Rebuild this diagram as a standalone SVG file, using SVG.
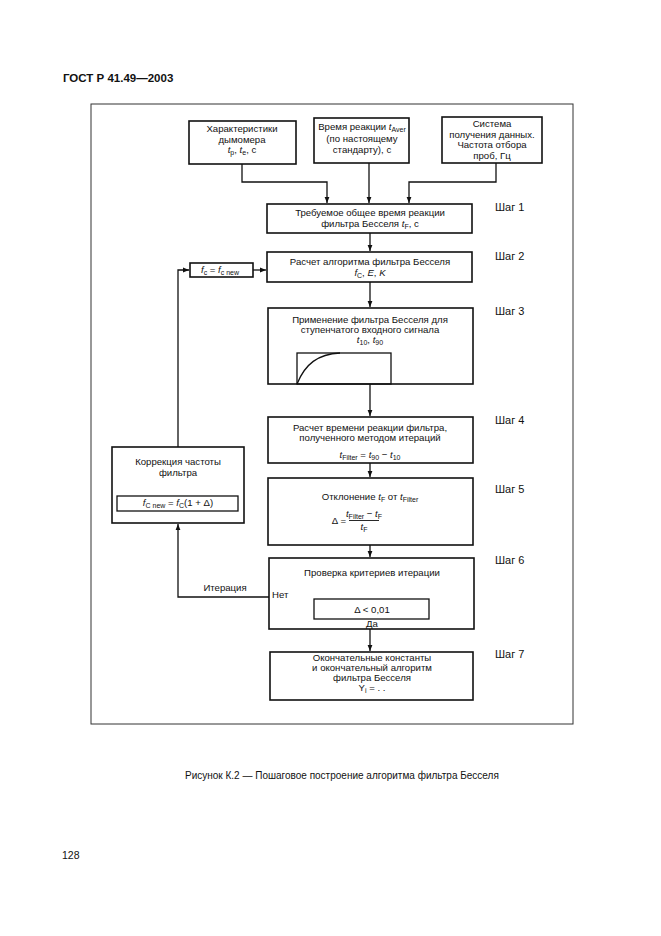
<svg xmlns="http://www.w3.org/2000/svg" width="661" height="936" viewBox="0 0 661 936">
<defs>
<style>
text{font-family:"Liberation Sans",Arial,sans-serif;font-size:9.6px;fill:#111;}
.c{text-anchor:middle;}
.i{font-style:italic;}
.s{font-size:7px;}
.box{fill:#fff;stroke:#111;stroke-width:1.6;}
.ln{fill:none;stroke:#111;stroke-width:1.3;}
.step{font-size:11px;}
</style>
<marker id="ah" viewBox="0 0 10 10" refX="10" refY="5" markerWidth="6" markerHeight="6" orient="auto" markerUnits="userSpaceOnUse">
<path d="M0,1 L10,5 L0,9 z" fill="#111"/>
</marker>
</defs>
<rect width="661" height="936" fill="#fff"/>
<text x="63" y="82" style="font-size:11.5px;font-weight:bold">ГОСТ Р 41.49—2003</text>
<rect x="91" y="104" width="482" height="620" fill="none" stroke="#333" stroke-width="1"/>

<g id="connectors">
<path class="ln" d="M242,164 V182 H327 V203" marker-end="url(#ah)"/>
<path class="ln" d="M369,163 V203" marker-end="url(#ah)"/>
<path class="ln" d="M496,163 V182 H409 V203" marker-end="url(#ah)"/>
<path class="ln" d="M370,233 V251" marker-end="url(#ah)"/>
<path class="ln" d="M370,282 V307" marker-end="url(#ah)"/>
<path class="ln" d="M370,384 V416" marker-end="url(#ah)"/>
<path class="ln" d="M370,463 V477" marker-end="url(#ah)"/>
<path class="ln" d="M370,545 V557" marker-end="url(#ah)"/>
<path class="ln" d="M370,629 V651" marker-end="url(#ah)"/>
<path class="ln" d="M253,270 H266" marker-end="url(#ah)"/>
<path class="ln" d="M178,447 V270 H189" marker-end="url(#ah)"/>
<path class="ln" d="M269,597 H178 V524" marker-end="url(#ah)"/>
<text class="c" x="225" y="591">Итерация</text>
</g>

<g id="in1">
<rect class="box" x="189" y="121" width="107" height="43"/>
<text class="c" x="242" y="132">Характеристики</text>
<text class="c" x="242" y="142.5">дымомера</text>
<text class="c" x="242" y="153"><tspan class="i">t</tspan><tspan class="s" dy="2">р</tspan><tspan dy="-2">, </tspan><tspan class="i">t</tspan><tspan class="s" dy="2">е</tspan><tspan dy="-2">, с</tspan></text>
</g>
<g id="in2">
<rect class="box" x="314" y="118" width="95" height="45"/>
<text class="c" x="362" y="130">Время реакции <tspan class="i">t</tspan><tspan class="s" dy="2">Aver</tspan></text>
<text class="c" x="362" y="141.5">(по настоящему</text>
<text class="c" x="362" y="152.5">стандарту), с</text>
</g>
<g id="in3">
<rect class="box" x="442" y="117" width="100" height="46"/>
<text class="c" x="492" y="127">Система</text>
<text class="c" x="492" y="137.5">получения данных.</text>
<text class="c" x="492" y="148">Частота отбора</text>
<text class="c" x="492" y="158.5">проб, Гц</text>
</g>

<g id="step1">
<rect class="box" x="267" y="204" width="205" height="29"/>
<text class="c" x="370" y="216">Требуемое общее время реакции</text>
<text class="c" x="370" y="227">фильтра Бесселя <tspan class="i">t</tspan><tspan class="s" dy="2">F</tspan><tspan dy="-2">, с</tspan></text>
<text class="step" x="495" y="211">Шаг 1</text>
</g>
<g id="step2">
<rect class="box" x="267" y="252" width="205" height="30"/>
<text class="c" x="370" y="265">Расчет алгоритма фильтра Бесселя</text>
<text class="c" x="370" y="276"><tspan class="i">f</tspan><tspan class="s" dy="2">C</tspan><tspan dy="-2">, </tspan><tspan class="i">E</tspan>, <tspan class="i">K</tspan></text>
<text class="step" x="495" y="260">Шаг 2</text>
</g>
<g id="fcset">
<rect class="box" x="190" y="263" width="63" height="14"/>
<text class="c" x="220" y="273"><tspan class="i">f</tspan><tspan class="s" dy="2">c</tspan><tspan dy="-2"> = </tspan><tspan class="i">f</tspan><tspan class="s" dy="2">c new</tspan></text>
</g>
<g id="step3">
<rect class="box" x="268" y="308" width="205" height="76"/>
<text class="c" x="370" y="323">Применение фильтра Бесселя для</text>
<text class="c" x="370" y="333">ступенчатого входного сигнала</text>
<text class="c" x="370" y="343"><tspan class="i">t</tspan><tspan class="s" dy="2">10</tspan><tspan dy="-2">, </tspan><tspan class="i">t</tspan><tspan class="s" dy="2">90</tspan></text>
<rect x="297" y="353" width="94" height="31" fill="none" stroke="#111" stroke-width="1.3"/>
<path class="ln" d="M297,384 C305,364 318,354 340,353"/>
<text class="step" x="495" y="315">Шаг 3</text>
</g>
<g id="step4">
<rect class="box" x="268" y="417" width="205" height="46"/>
<text class="c" x="370" y="431">Расчет времени реакции фильтра,</text>
<text class="c" x="370" y="441">полученного методом итераций</text>
<text class="c" x="370" y="458"><tspan class="i">t</tspan><tspan class="s" dy="2">Filter</tspan><tspan dy="-2"> = </tspan><tspan class="i">t</tspan><tspan class="s" dy="2">90</tspan><tspan dy="-2"> − </tspan><tspan class="i">t</tspan><tspan class="s" dy="2">10</tspan></text>
<text class="step" x="495" y="424">Шаг 4</text>
</g>
<g id="step5">
<rect class="box" x="268" y="478" width="205" height="67"/>
<text class="c" x="370" y="500">Отклонение <tspan class="i">t</tspan><tspan class="s" dy="2">F</tspan><tspan dy="-2"> от </tspan><tspan class="i">t</tspan><tspan class="s" dy="2">Filter</tspan></text>
<text x="346" y="524" style="text-anchor:end">Δ =</text>
<text class="c" x="364" y="517"><tspan class="i">t</tspan><tspan class="s" dy="2">Filter</tspan><tspan dy="-2"> − </tspan><tspan class="i">t</tspan><tspan class="s" dy="2">F</tspan></text>
<line x1="349" y1="520.5" x2="379" y2="520.5" stroke="#111" stroke-width="0.9"/>
<text class="c" x="364" y="530"><tspan class="i">t</tspan><tspan class="s" dy="2">F</tspan></text>
<text class="step" x="495" y="493">Шаг 5</text>
</g>
<g id="corr">
<rect class="box" x="112" y="447" width="132" height="76"/>
<text class="c" x="178" y="465">Коррекция частоты</text>
<text class="c" x="178" y="476">фильтра</text>
<rect x="117" y="496" width="121" height="15" fill="none" stroke="#111" stroke-width="1.3"/>
<text class="c" x="178" y="506"><tspan class="i">f</tspan><tspan class="s" dy="2">C new</tspan><tspan dy="-2"> = </tspan><tspan class="i">f</tspan><tspan class="s" dy="2">C</tspan><tspan dy="-2">(1 + Δ)</tspan></text>
</g>
<g id="step6">
<rect class="box" x="269" y="558" width="205" height="71"/>
<text class="c" x="372" y="576">Проверка критериев итерации</text>
<text x="272" y="598">Нет</text>
<rect x="314" y="599" width="115" height="20" fill="none" stroke="#111" stroke-width="1.3"/>
<text class="c" x="372" y="613">Δ &lt; 0,01</text>
<text class="c" x="372" y="626.5">Да</text>
<text class="step" x="495" y="564">Шаг 6</text>
</g>
<g id="step7">
<rect class="box" x="270" y="652" width="203" height="48"/>
<text class="c" x="372" y="661">Окончательные константы</text>
<text class="c" x="372" y="671">и окончательный алгоритм</text>
<text class="c" x="372" y="681">фильтра Бесселя</text>
<text class="c" x="372" y="691">Y<tspan class="s" dy="2">i</tspan><tspan dy="-2"> = . .</tspan></text>
<text class="step" x="495" y="658">Шаг 7</text>
</g>
<text x="185" y="779" style="font-size:10px">Рисунок К.2 — Пошаговое построение алгоритма фильтра Бесселя</text>
<text x="62" y="859" style="font-size:10.5px">128</text>
</svg>
